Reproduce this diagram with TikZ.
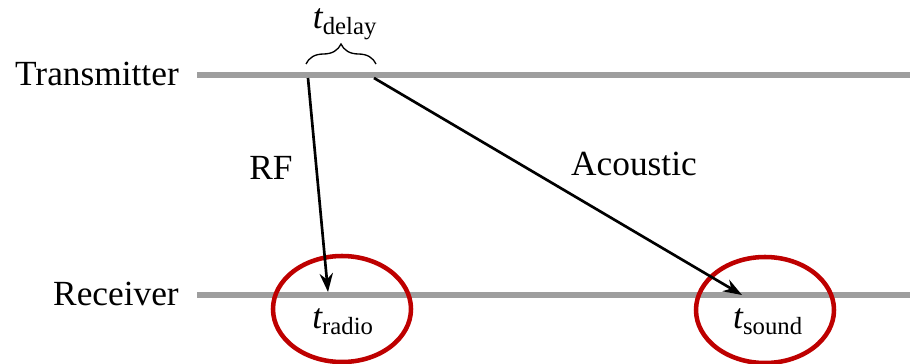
\documentclass[tikz,border=0pt]{standalone}
\usepackage{fontspec}
\setmainfont{Liberation Serif}
\usepackage{tikz}
\usetikzlibrary{decorations.pathreplacing,arrows.meta}

\begin{document}
\begin{tikzpicture}[x=0.75pt,y=0.75pt,yscale=-1,xscale=1,
  timeline/.style={color={rgb, 255:red, 158; green, 158; blue, 158 },line width=5pt},
  msg/.style={line width=2pt,-{Stealth[length=14pt,width=10pt]}},
  ring/.style={color={rgb, 255:red, 190; green, 0; blue, 0 },line width=3.4pt},
  lbl/.style={inner sep=0.75pt,font=\fontsize{26.5}{31}\selectfont}]
\useasboundingbox (0,0) rectangle (910,364);

%Straight Lines [id:transmitter]
\draw [timeline]   (197,75) -- (910,75) ;
%Straight Lines [id:receiver]
\draw [timeline]   (197,295) -- (910,295) ;

%Shape: Ellipse [id:ringradio]
\draw [ring]  (342,309) ellipse [x radius=69, y radius=53] ;
%Shape: Ellipse [id:ringsound]
\draw [ring]  (765,310) ellipse [x radius=69, y radius=53] ;

% end points of the messages
\coordinate (rfstart) at (308,78) ;
\coordinate (rfend) at (328,292) ;
\coordinate (acstart) at (374,78) ;
\coordinate (acend) at (742,295) ;

%Straight Lines [id:rf]
\draw [msg]   (rfstart) -- (rfend) ;
%Straight Lines [id:acoustic]
\draw [msg]   (acstart) -- (acend) ;

%Shape: Brace [id:delaybrace]
\draw [line width=1pt,decorate,decoration={brace,amplitude=15pt}]  (306,64) -- (376,64) ;

% Text Node
\node (txlabel) [lbl,anchor=east] at (180,74) {Transmitter};
% Text Node
\node (rxlabel) [lbl,anchor=east] at (180,294) {Receiver};
% Text Node
\node (delay) [lbl,inner sep=0pt] at (345,24) {$\mathit{t}_{\mathrm{delay}}$};
% Text Node
\node (rflabel) [lbl] at (271,168) {RF};
% Text Node
\node (aclabel) [lbl] at (634,164) {Acoustic};
% Text Node
\node (tradio) [lbl] at (343,322) {$\mathit{t}_{\mathrm{radio}}$};
% Text Node
\node (tsound) [lbl] at (768,322) {$\mathit{t}_{\mathrm{sound}}$};

\end{tikzpicture}
\end{document}
